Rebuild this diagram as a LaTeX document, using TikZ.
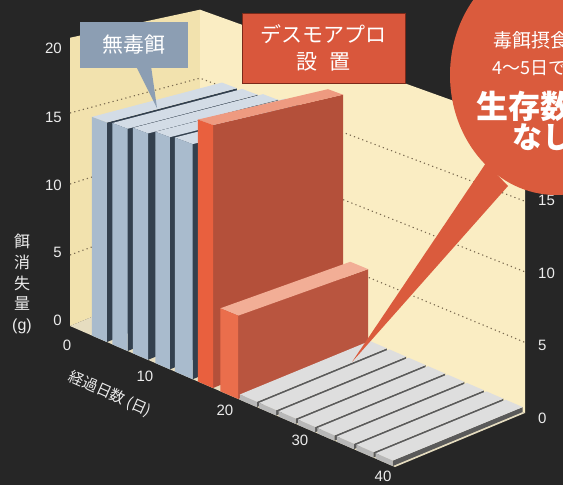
\documentclass[tikz,border=0pt]{standalone}
\usepackage{fontspec}
\setmainfont{Liberation Sans}
\newfontfamily\jp{Noto Sans CJK JP}
\definecolor{bgdark}{HTML}{262626}
\definecolor{wallL}{HTML}{F2E2AE}
\definecolor{wallR}{HTML}{FAEDC3}
\definecolor{gridc}{HTML}{7A6A50}
\definecolor{floorc}{HTML}{E6DDC0}
\definecolor{bluefront}{HTML}{A9BBCD}
\definecolor{blueside}{HTML}{33404E}
\definecolor{bluetop}{HTML}{D3DCE6}
\definecolor{redfront}{HTML}{E9603E}
\definecolor{redside}{HTML}{B4503A}
\definecolor{redtop}{HTML}{EE9A80}
\definecolor{sredfront}{HTML}{EA6E4C}
\definecolor{sredside}{HTML}{B9553F}
\definecolor{sredtop}{HTML}{F2AE96}
\definecolor{grayfront}{HTML}{B8B8B8}
\definecolor{grayside}{HTML}{5A5A5A}
\definecolor{graytop}{HTML}{DEDEDE}
\definecolor{boxblue}{HTML}{8C9EB3}
\definecolor{boxred}{HTML}{D9573C}
\definecolor{boxredline}{HTML}{7A2A1A}
\definecolor{bubred}{HTML}{DA5B3D}
\definecolor{axtext}{HTML}{ECECEC}
% projection: d = days, b = depth (0 front .. 1 back), h = grams
\newcommand{\mkpt}[4]{%
  \pgfmathsetmacro{\mkx}{70+8.125*(#2)+130*(#3)}%
  \pgfmathsetmacro{\mky}{326+3.525*(#2)-54*(#3)-(#4)*14.2*(1-0.09*(#3))*(1+0.0023*(#2))}%
  \coordinate (#1) at (\mkx,\mky);}
% bar: prefix, d0, d1, h, front, side, top
\newcommand{\mkbar}[7]{%
  \mkpt{#1a}{#2}{0}{0}\mkpt{#1b}{#3}{0}{0}\mkpt{#1c}{#3}{1}{0}%
  \mkpt{#1d}{#2}{0}{#4}\mkpt{#1e}{#3}{0}{#4}\mkpt{#1f}{#3}{1}{#4}\mkpt{#1g}{#2}{1}{#4}%
  \fill[#6] (#1b) -- (#1c) -- (#1f) -- (#1e) -- cycle;%
  \fill[#7] (#1d) -- (#1e) -- (#1f) -- (#1g) -- cycle;%
  \fill[#5] (#1a) -- (#1b) -- (#1e) -- (#1d) -- cycle;}
\begin{document}
\begin{tikzpicture}[x=1pt,y=-1pt,
  gridline/.style={gridc,line width=1.1pt,dash pattern=on 1.2pt off 3.2pt},
  axnum/.style={text=axtext,font=\fontsize{15}{15}\selectfont,inner sep=0pt},
  axt/.style={text=axtext,inner sep=0pt},
  boxtext/.style={text=white,inner sep=0pt}]
\useasboundingbox (0,0) rectangle (563,485);
\clip (0,0) rectangle (563,485);
\fill[bgdark] (0,0) rectangle (563,485);
% walls
\mkpt{w1}{0}{0}{0}\mkpt{w2}{0}{1}{0}\mkpt{w3}{40}{1}{0}\mkpt{w4}{40}{0}{0}
\mkpt{w5}{0}{0}{20.3}\mkpt{w6}{0}{1}{20.3}\mkpt{w7}{40}{1}{20.3}
\fill[wallL] (w1) -- (w2) -- (w6) -- (w5) -- cycle;
\fill[wallR] (w2) -- (w3) -- (w7) -- (w6) -- cycle;
% grid lines
\foreach \v in {5,10,15}{
  \mkpt{ga}{0}{0}{\v}\mkpt{gb}{0}{1}{\v}\mkpt{gc}{40}{1}{\v}
  \draw[gridline] (ga) -- (gb) -- (gc);
}
% floor
\fill[floorc] (w1) -- (w4) -- (w3) -- (w2) -- cycle;
% blue bars
\mkbar{b1}{2.7}{4.55}{15.3}{bluefront}{blueside}{bluetop}
\mkbar{b2}{5.2}{7.1}{15.4}{bluefront}{blueside}{bluetop}
\mkbar{b3}{7.75}{9.6}{15.6}{bluefront}{blueside}{bluetop}
\mkbar{b4}{10.5}{12.3}{15.9}{bluefront}{blueside}{bluetop}
\mkbar{b5}{12.9}{15.1}{16.0}{bluefront}{blueside}{bluetop}
% red bars
\mkbar{r1}{15.75}{17.6}{17.8}{redfront}{redside}{redtop}
\mkbar{r2}{18.5}{20.7}{5.6}{sredfront}{sredside}{sredtop}
% gray low bars
\foreach \i in {0,...,7}{
  \pgfmathsetmacro{\da}{20.9+\i*2.39}
  \pgfmathsetmacro{\db}{\da+2.09}
  \mkbar{g}{\da}{\db}{0.35}{grayfront}{grayside}{graytop}
}
% axis numbers
\node[axnum,anchor=east] (l20) at (62,48) {20};
\node[axnum,anchor=east] (l15) at (62,117) {15};
\node[axnum,anchor=east] (l10) at (62,185) {10};
\node[axnum,anchor=east] (l5) at (62,252) {5};
\node[axnum,anchor=east] (l0) at (62,320) {0};
\node[axnum,anchor=west] (r15) at (538,200) {15};
\node[axnum,anchor=west] (r10) at (538,273) {10};
\node[axnum,anchor=west] (r5) at (538,345) {5};
\node[axnum,anchor=west] (r0) at (538,418) {0};
\node[axnum] (d0) at (67,345) {0};
\node[axnum] (d10) at (145,376) {10};
\node[axnum] (d20) at (225,410) {20};
\node[axnum] (d30) at (300,440) {30};
\node[axnum] (d40) at (383,476) {40};
% axis titles
\node[axt,align=center,font=\jp\fontsize{16}{20.7}\selectfont] (ytitle) at (22,284) {餌\\消\\失\\量\\\rmfamily(g)};
\node[axt,rotate=-24,font=\jp\fontsize{15}{15}\selectfont] (xtitle) at (110,394) {経過日数 (日)};
% label: no poison bait
\fill[boxblue] (136,66) -- (151,66) -- (157,108) -- cycle;
\node[fill=boxblue,minimum width=108pt,minimum height=46pt,inner sep=0pt,text=white,font=\jp\fontsize{21}{21}\selectfont] (lab1) at (134,45) {無毒餌};
% label: desmoa pro
\node[fill=boxred,draw=boxredline,line width=1pt,minimum width=163pt,minimum height=70pt,inner sep=0pt,text=white,align=center,font=\jp\fontsize{21}{27}\selectfont] (lab2) at (323.5,48) {デスモアプロ\\設\hspace{0.6em}置};
% bubble
\fill[bubred] (486,163) -- (508,186) -- (352,362) -- cycle;
\fill[bubred] (556,75) ellipse [x radius=106, y radius=120];
\node[boxtext,anchor=west,font=\jp\fontsize{19}{19}\selectfont] (bt1) at (493,40) {毒餌摂食};
\node[boxtext,anchor=west,font=\jp\fontsize{18}{18}\selectfont] (bt2) at (492,68) {4～5日で};
\node[boxtext,anchor=west,font=\jp\bfseries\fontsize{32}{32}\selectfont] (bt3) at (476,106) {生存数};
\node[boxtext,anchor=west,font=\jp\bfseries\fontsize{30}{30}\selectfont] (bt4) at (512,137) {なし};
\end{tikzpicture}
\end{document}
